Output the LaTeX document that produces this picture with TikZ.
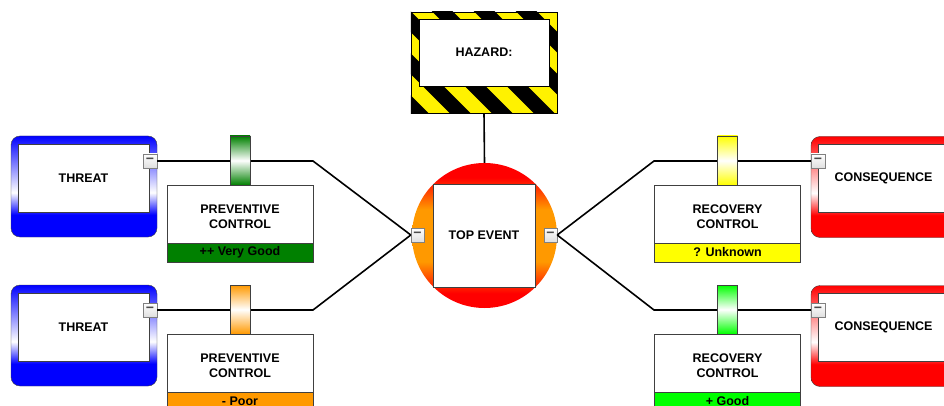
\documentclass[tikz,border=0pt]{standalone}
\usepackage{fontspec}
\setmainfont{Liberation Sans}
\definecolor{vgood}{HTML}{008000}
\definecolor{poor}{HTML}{FF9900}
\definecolor{unknown}{HTML}{FFFF00}
\definecolor{good}{HTML}{00FF00}
\definecolor{edge}{HTML}{404040}
% shadings: the path is mapped on 25bp..75bp
\pgfdeclareverticalshading{threatshade}{100bp}{color(0bp)=(blue); color(36bp)=(blue); color(47bp)=(white); color(75bp)=(blue); color(100bp)=(blue)}
\pgfdeclareverticalshading{consshade}{100bp}{color(0bp)=(red); color(36bp)=(red); color(47bp)=(white); color(75bp)=(red); color(100bp)=(red)}
\pgfdeclareverticalshading{eventshade}{100bp}{color(0bp)=(red); color(30bp)=(red); color(41bp)=(poor); color(59bp)=(poor); color(70bp)=(red); color(100bp)=(red)}
\newcommand{\ctrltext}[2]{\rule{0pt}{14pt}#1\\#2}
\begin{document}
\begin{tikzpicture}[x=1pt,y=-1pt,
  every node/.style={font=\fontsize{12.5}{15}\selectfont\bfseries, inner sep=0pt},
  outerbox/.style={rounded corners=9, draw=edge, minimum width=146, minimum height=101},
  innerbox/.style={draw=edge, fill=white, minimum width=131, minimum height=68},
  minusbox/.style={draw=gray, top color=white, bottom color=gray!25, minimum width=14, minimum height=14, text=gray!60!black, font=\fontsize{14}{14}\selectfont\bfseries},
  bar/.style={draw=edge, top color=#1, bottom color=#1, middle color=white, minimum width=20, minimum height=49},
  ctrlbox/.style={draw=edge, fill=white, minimum width=146, minimum height=58, align=center},
  status/.style={draw=edge, fill=#1, minimum width=146, minimum height=19},
  conn/.style={line width=1.6pt, black}]
\useasboundingbox (0,0) rectangle (944,406);

% hazard
\node[minimum width=146, minimum height=101] (haz) at (484,62.5) {};
\begin{scope}
\clip (haz.north west) rectangle (haz.south east);
\fill[yellow] (haz.north west) rectangle (haz.south east);
\foreach \k in {-4,...,3}
  \draw[line width=14.8] (443+42*\k-20,-8) -- ++(141,141);
\end{scope}
\draw (haz.north west) rectangle (haz.south east);
\node[draw=black, fill=white, minimum width=130, minimum height=67] (hazin) at (484,52.5) {HAZARD:};

% top event
\node[circle, minimum size=145, shading=eventshade] (top) at (484.5,235.5) {};
\node[draw=edge, fill=white, minimum width=102, minimum height=103] (ev) at (484,235.5) {TOP EVENT};
\node[minusbox, minimum width=13] (evl) at (417.5,235) {−};
\node[minusbox, minimum width=13] (evr) at (550.5,235) {−};
\draw[conn] (haz.south) -- (top.north);

% threats
\node[outerbox, shading=threatshade] (thr1) at (84,186.5) {};
\node[innerbox] (thr1in) at (83.5,178) {THREAT};
\node[minusbox] (thr1m) at (150,161) {−};
\node[outerbox, shading=threatshade] (thr2) at (84,335.5) {};
\node[innerbox] (thr2in) at (83.5,327) {THREAT};
\node[minusbox] (thr2m) at (150,310) {−};

% consequences
\node[outerbox, shading=consshade] (cons1) at (884,187) {};
\node[innerbox] (cons1in) at (883.5,178) {CONSEQUENCE};
\node[minusbox] (cons1m) at (818,161) {−};
\node[outerbox, shading=consshade] (cons2) at (884,336) {};
\node[innerbox] (cons2in) at (883.5,327) {CONSEQUENCE};
\node[minusbox] (cons2m) at (818,310) {−};

% connectors
\coordinate (pb1) at (313,161);
\coordinate (pb2) at (313,310);
\coordinate (rb1) at (654,161);
\coordinate (rb2) at (654,310);
\draw[conn] (thr1m.east) -- (pb1) -- (evl.west);
\draw[conn] (thr2m.east) -- (pb2) -- (evl.west);
\draw[conn] (evr.east) -- (rb1) -- (cons1m.west);
\draw[conn] (evr.east) -- (rb2) -- (cons2m.west);

% preventive controls
\node[bar=vgood] (pbar1) at (240,160.5) {};
\node[ctrlbox] (pc1) at (240,214) {\ctrltext{PREVENTIVE}{CONTROL}};
\node[status=vgood] (ps1) at (240,252.5) {++ Very Good};
\node[bar=poor] (pbar2) at (240,309.5) {};
\node[ctrlbox] (pc2) at (240,363) {\ctrltext{PREVENTIVE}{CONTROL}};
\node[status=poor] (ps2) at (240,401.5) {- Poor};

% recovery controls
\node[bar=unknown] (rbar1) at (727.5,160.5) {};
\node[ctrlbox] (rc1) at (727.5,214) {\ctrltext{RECOVERY}{CONTROL}};
\node[status=unknown] (rs1) at (727.5,252.5) {? Unknown};
\node[bar=good] (rbar2) at (727.5,309.5) {};
\node[ctrlbox] (rc2) at (727.5,363) {\ctrltext{RECOVERY}{CONTROL}};
\node[status=good] (rs2) at (727.5,401.5) {+ Good};
\end{tikzpicture}
\end{document}
